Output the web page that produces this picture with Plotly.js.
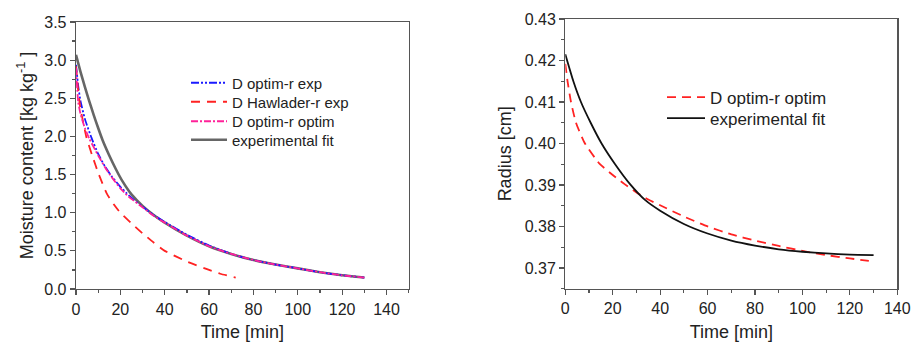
<!DOCTYPE html>
<html>
<head>
<meta charset="utf-8">
<script src="https://cdn.plot.ly/plotly-3.0.1.min.js"></script>
<style>html,body{margin:0;padding:0;background:#fff;}#chart{width:912px;height:342px;}</style>
</head>
<body>
<div id="chart"></div>
<script>
// ---- Left panel: moisture content [kg kg-1] vs time [min] ----
var tFit = [0,2,4,6,8,10,12,15,18,21,25,30,35,40,50,60,70,80,90,100,110,120,130];
var moistFit = [3.07,2.85,2.65,2.46,2.28,2.11,1.95,1.75,1.57,1.41,1.24,1.09,0.97,0.87,0.70,0.56,0.46,0.38,0.32,0.27,0.22,0.18,0.15];
var tOptimExp = [0,1,2,4,7,10,13,16,20,23,26,30,35,40,50,60,70,80,90,100,110,120,130];
var moistOptimExp = [2.94,2.66,2.47,2.23,1.98,1.77,1.61,1.48,1.34,1.25,1.17,1.08,0.97,0.88,0.71,0.57,0.46,0.38,0.32,0.27,0.22,0.18,0.15];
var tOptimOptim = [0,1,2,4,6,10,13,16,20,23,26,30,35,40,50,60,70,80,90,100,110,120,130];
var moistOptimOptim = [2.90,2.45,2.30,2.11,1.97,1.75,1.60,1.47,1.32,1.23,1.16,1.07,0.96,0.87,0.70,0.56,0.46,0.38,0.32,0.27,0.22,0.18,0.15];
var tHawl = [0,1,2,2.8,4.6,7.3,10.3,13.9,17,20,25,30,35,40,50,60,65,72];
var moistHawl = [2.92,2.60,2.36,2.25,2.00,1.75,1.50,1.25,1.11,1.00,0.86,0.73,0.61,0.50,0.36,0.25,0.20,0.15];

// ---- Right panel: radius [cm] vs time [min] ----
var tRadFit = [0,3.4,6.6,10.7,15.3,21,27.3,33.6,40,50,60,70,80,90,100,110,120,130];
var radFit = [0.4215,0.4150,0.4100,0.4050,0.4000,0.3950,0.3902,0.3864,0.3838,0.3806,0.3783,0.3766,0.3754,0.3745,0.3739,0.3735,0.3732,0.3731];
var tRadOpt = [0,1,2.4,4.5,8.3,14.3,20,25,30,35,40,50,60,70,80,90,100,110,120,128];
var radOpt = [0.4192,0.4148,0.4100,0.4050,0.4000,0.3952,0.3924,0.3902,0.3882,0.3865,0.3851,0.3824,0.3800,0.3781,0.3766,0.3753,0.3741,0.3731,0.3723,0.3717];

var xTicks = [0,20,40,60,80,100,120,140];

var traces = [
  {x:tFit, y:moistFit, name:'experimental fit', mode:'lines',
   line:{color:'#666666', width:2.6, shape:'spline', smoothing:0.5}, xaxis:'x', yaxis:'y', legend:'legend4'},
  {x:tOptimExp, y:moistOptimExp, name:'D optim-r exp', mode:'lines',
   line:{color:'#1a1aff', width:1.8, dash:'8px,2px,2px,2px,2px,2px', shape:'spline', smoothing:0.5}, xaxis:'x', yaxis:'y', legend:'legend'},
  {x:tHawl, y:moistHawl, name:'D Hawlader-r exp', mode:'lines',
   line:{color:'#ff2222', width:1.8, dash:'9px,7px', shape:'spline', smoothing:0.5}, xaxis:'x', yaxis:'y', legend:'legend2'},
  {x:tOptimOptim, y:moistOptimOptim, name:'D optim-r optim', mode:'lines',
   line:{color:'#ff2299', width:1.8, dash:'7px,2px,2px,2px', shape:'spline', smoothing:0.5}, xaxis:'x', yaxis:'y', legend:'legend3'},
  {x:tRadOpt, y:radOpt, name:'D optim-r optim', mode:'lines',
   line:{color:'#ff2222', width:1.8, dash:'9px,6px', shape:'spline', smoothing:0.5}, xaxis:'x2', yaxis:'y2', legend:'legend5'},
  {x:tRadFit, y:radFit, name:'experimental fit', mode:'lines',
   line:{color:'#111111', width:1.8, shape:'spline', smoothing:0.5}, xaxis:'x2', yaxis:'y2', legend:'legend6'}
];

var FAM = '"Liberation Sans", Arial, sans-serif';
var tickFont = {family:FAM, size:16, color:'#222'};
var titleFont = {family:FAM, size:18, color:'#222'};
function xax(domain, anchor, range){
  return {domain:domain, anchor:anchor, range:range, tickvals:xTicks, ticks:'outside', ticklen:5, tickwidth:1.2,
    tickcolor:'#555', showline:true, linecolor:'#555', linewidth:1.3, mirror:true, showgrid:false, zeroline:false,
    tickfont:tickFont, automargin:false, fixedrange:true,
    minor:{dtick:10, tick0:0, ticks:'outside', ticklen:3, tickcolor:'#555', tickwidth:1.2, showgrid:false},
    title:{text:'Time [min]', font:titleFont, standoff:10}};
}
function yax(domain, anchor, range, dtick, minor, fmt, title, standoff){
  return {domain:domain, anchor:anchor, range:range, dtick:dtick, tick0:0, tickformat:fmt, ticks:'outside', ticklen:5, tickwidth:1.2,
    tickcolor:'#555', showline:true, linecolor:'#555', linewidth:1.3, mirror:true, showgrid:false, zeroline:false,
    tickfont:tickFont, automargin:false, fixedrange:true,
    minor:{dtick:minor, ticks:'outside', ticklen:3, tickcolor:'#555', tickwidth:1.2, showgrid:false},
    title:{text:title, font:titleFont, standoff:standoff}};
}
function leg(xpx, ypx, size, iw){
  return {x:xpx/912, y:1-ypx/342, xanchor:'left', yanchor:'middle', bgcolor:'rgba(0,0,0,0)',
    font:{family:FAM, size:size, color:'#222'}, itemwidth:iw};
}

var layout = {
  width:912, height:342, margin:{l:0,r:0,t:0,b:0}, paper_bgcolor:'#fff', plot_bgcolor:'#fff',
  font:{family:FAM, color:'#222'},
  xaxis: xax([76/912, 408.7/912], 'y', [0,150]),
  yaxis: yax([53/342, 320/342], 'x', [0,3.5], 0.5, 0.25, '.1f', 'Moisture content [kg kg<sup>-1</sup> ]', 6),
  xaxis2: xax([565.3/912, 897.3/912], 'y2', [0,140]),
  yaxis2: yax([53.3/342, 323/342], 'x2', [0.365,0.43], 0.01, 0.005, '.2f', 'Radius [cm]', 8),
  legend: leg(186, 83, 15, 36),
  legend2: leg(186, 102, 15, 36),
  legend3: leg(186, 121.5, 15, 36),
  legend4: leg(186, 140, 15, 36),
  legend5: leg(662, 97.5, 17, 38),
  legend6: leg(662, 118.5, 17, 38),
  showlegend:true
};

Plotly.newPlot('chart', traces, layout, {displayModeBar:false, staticPlot:true});
</script>
</body>
</html>
